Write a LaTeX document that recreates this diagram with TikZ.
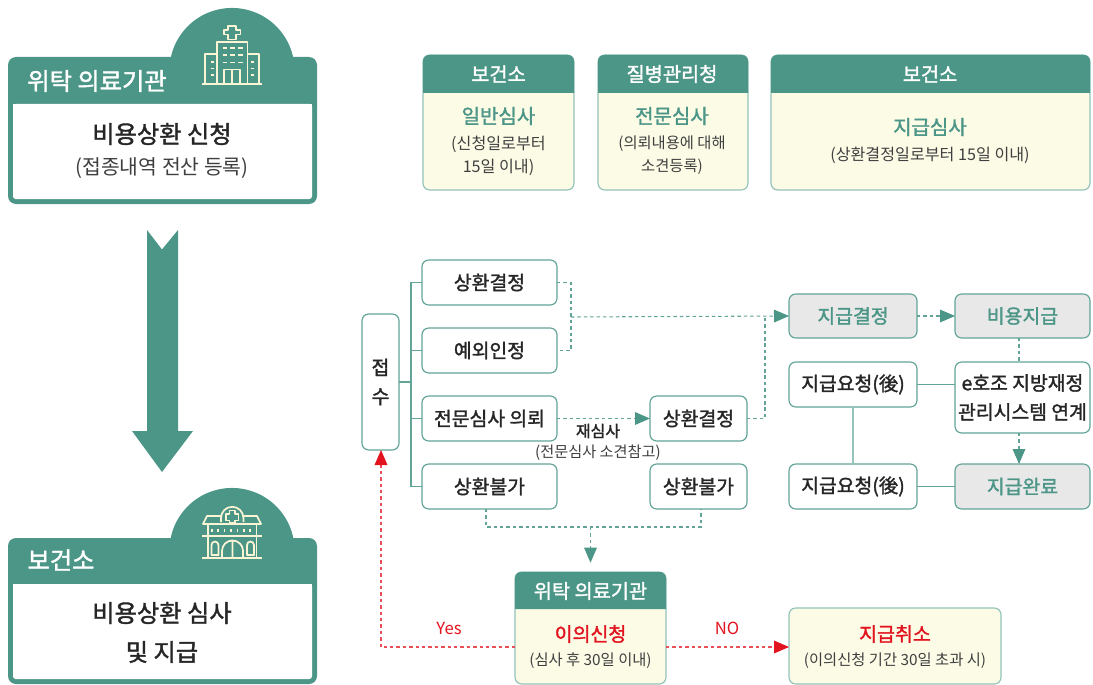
\documentclass[tikz,border=0pt]{standalone}
\usepackage{fontspec}
\setmainfont{Noto Sans CJK KR}
\newfontfamily\medf[FakeBold=1.6]{Noto Sans CJK KR}
\usetikzlibrary{arrows.meta}
\definecolor{tealc}{HTML}{4C9688}
\definecolor{edgec}{HTML}{62A498}
\definecolor{softc}{HTML}{93C3BA}
\definecolor{creamc}{HTML}{FCFBE6}
\definecolor{iconc}{HTML}{FBF5D6}
\definecolor{grayc}{HTML}{E8E8E8}
\definecolor{redc}{HTML}{E2141F}
\definecolor{inkc}{HTML}{262626}
\definecolor{subc}{HTML}{3F3F3F}
\newcommand\bx[7]{%
  \pgfmathsetmacro\bxw{(#4-#2)*0.75}\pgfmathsetmacro\bxh{(#5-#3)*0.75}%
  \node[#6,minimum width=\bxw pt,minimum height=\bxh pt] (#1) at ({(#2+#4)/2},{(#3+#5)/2}) {#7};}
\newcommand\hcard[7]{% name x1 y1 x2 y2 yh contents
  \bx{#1}{#2}{#3}{#4}{#5}{cardbody}{}
  \fill[tealc] (#2,#6) [rounded corners=4.5pt] -- (#2,#3) -- (#4,#3) [sharp corners] -- (#4,#6) -- cycle;
  #7}
\tikzset{
  x=0.75pt,y=-0.75pt,
  plain/.style={draw=edgec,line width=0.85pt,rounded corners=5pt,inner sep=0pt,outer sep=0pt,align=center,text=inkc,fill=white,font=\fontsize{14.5}{21.75}\selectfont\medf},
  cardbody/.style={draw=softc,line width=0.85pt,fill=creamc,rounded corners=5pt,inner sep=0pt,outer sep=0pt},
  greybox/.style={plain,fill=grayc,text=tealc},
  headtxt/.style={text=white,font=\fontsize{14.8}{18}\selectfont\medf,inner sep=0pt},
  bigtxt/.style={text=inkc,font=\fontsize{18.2}{22}\selectfont\medf,inner sep=0pt},
  bighead/.style={text=white,font=\fontsize{18.2}{22}\selectfont\medf,inner sep=0pt},
  bigsub/.style={text=subc,font=\fontsize{15.3}{18}\selectfont,inner sep=0pt},
  tealtxt/.style={text=tealc,font=\fontsize{15}{18}\selectfont\medf,inner sep=0pt},
  redtxt/.style={text=redc,font=\fontsize{14.6}{18}\selectfont\medf,inner sep=0pt},
  subtxt/.style={text=subc,font=\fontsize{12.1}{17.25}\selectfont,inner sep=0pt,align=center},
  subsmall/.style={text=subc,font=\fontsize{11.5}{14}\selectfont,inner sep=0pt},
  labeltxt/.style={text=redc,font=\fontsize{12.5}{15}\selectfont,inner sep=0pt},
  solidline/.style={draw=edgec,line width=0.85pt},
  softline/.style={draw=softc,line width=1.4pt},
  dashline/.style={draw=edgec,line width=0.8pt,dash pattern=on 2.6pt off 2.2pt},
  dasharrow/.style={dashline,-{Triangle[length=11.25pt,width=9.5pt,color=tealc]}},
  reddash/.style={draw=redc!75!white,line width=0.85pt,dash pattern=on 2.6pt off 2.2pt},
  redarrow/.style={reddash,-{Triangle[length=11.25pt,width=9.5pt,color=redc]}},
  iconline/.style={draw=iconc,line width=1.3pt,line join=round},
}
\begin{document}
\begin{tikzpicture}
\useasboundingbox (0,0) rectangle (1093,685);
% ---- top-left card
\fill[tealc] (232,70.5) circle[radius=46.9pt];
\fill[tealc,rounded corners=6pt] (8,57) rectangle (317,204);
\fill[white,rounded corners=2pt] (13,104) rectangle (312,199);
\fill[white] (13,104) rectangle (312,115);
\node[bighead] (t1) at (97,81) {위탁 의료기관};
\node[bigtxt] (t2) at (162,134) {비용상환 신청};
\node[bigsub] (t3) at (162,168) {(접종내역 전산 등록)};
% hospital icon
\draw[iconline] (228,39.5) -- (228,34.5) -- (224,34.5) -- (224,30) -- (228,30) -- (228,26) -- (236,26) -- (236,30) -- (240.5,30) -- (240.5,34.5) -- (236,34.5) -- (236,39.5) -- cycle;
\draw[iconline] (217,84) -- (217,42) -- (247.5,42) -- (247.5,84);
\draw[iconline] (217,54) -- (205,54) -- (205,84);
\draw[iconline] (247.5,54) -- (259,54) -- (259,84);
\draw[iconline] (202,84) -- (262,84);
\draw[iconline] (224,84) -- (224,69.5) -- (240,69.5) -- (240,84) (232,69.5) -- (232,84);
\foreach \yy in {48,55,62.5}{\foreach \xx in {222.5,230,238}{\draw[iconline,line width=1pt] (\xx,\yy) -- +(4.5,0);}}
\foreach \yy in {62,68.5,75}{\draw[iconline,line width=1pt] (210.5,\yy) -- +(3.5,0); \draw[iconline,line width=1pt] (250.5,\yy) -- +(3.5,0);}
% ---- big arrow
\fill[tealc] (147,230) -- (162,249.5) -- (178,230) -- (178,431) -- (193,431) -- (162,472) -- (132,431) -- (147,431) -- cycle;
% ---- bottom-left card
\fill[tealc] (232,550.5) circle[radius=46.9pt];
\fill[tealc,rounded corners=6pt] (8,538) rectangle (317,684);
\fill[white,rounded corners=2pt] (13,584) rectangle (312,679);
\fill[white] (13,584) rectangle (312,595);
\node[bighead] (b1) at (61,560) {보건소};
\node[bigtxt] (b2) at (162,613) {비용상환 심사};
\node[bigtxt] (b3) at (162,652) {및 지급};
% public-health-centre icon
\draw[iconline] (221,522) -- (221,518) arc[start angle=180,end angle=0,radius=8.4pt] -- (243.5,522);
\draw[iconline] (229.5,523) -- (229.5,520.5) -- (226,520.5) -- (226,514) -- (229.5,514) -- (229.5,510.5) -- (235,510.5) -- (235,514) -- (238.5,514) -- (238.5,520.5) -- (235,520.5) -- (235,523) -- cycle;
\draw[iconline] (221,516) -- (207,516) -- (203,524) -- (261,524) -- (257,516) -- (243.5,516);
\draw[iconline] (208,524) -- (208,557) (256.5,524) -- (256.5,557);
\foreach \xx in {212,218,224.5,231,237.5,244,250}{\draw[iconline,line width=1pt] (\xx,528.5) -- +(0,3.5);}
\draw[iconline] (202,536) -- (262,536);
\draw[iconline] (202,558) -- (262,558);
\draw[iconline] (222,557) -- (222,551) arc[start angle=180,end angle=0,radius=7.9pt] -- (243,557) (232.5,541) -- (232.5,557);
\draw[iconline] (211.5,555) -- (211.5,545) arc[start angle=180,end angle=0,radius=2.6pt] -- (218.5,555) -- cycle;
\draw[iconline] (247,555) -- (247,545) arc[start angle=180,end angle=0,radius=2.6pt] -- (254,555) -- cycle;
% ---- header cards
\hcard{c1}{423}{55}{574}{190}{93}{\node[headtxt] (c1h) at (498.5,74) {보건소};
  \node[tealtxt] (c1a) at (498.5,116) {일반심사};
  \node[subtxt] (c1b) at (498.5,155.5) {(신청일로부터\\15일 이내)};}
\hcard{c2}{598}{55}{748}{190}{93}{\node[headtxt] (c2h) at (672,74) {질병관리청};
  \node[tealtxt] (c2a) at (672,116) {전문심사};
  \node[subtxt,font=\fontsize{11.5}{17.25}\selectfont] (c2b) at (672,155.5) {(의뢰내용에 대해\\소견등록)};}
\hcard{c3}{771}{55}{1090}{190}{93}{\node[headtxt] (c3h) at (930,74) {보건소};
  \node[tealtxt] (c3a) at (930,127) {지급심사};
  \node[subtxt] (c3b) at (930,155) {(상환결정일로부터 15일 이내)};}
\hcard{c4}{515}{572}{666}{684}{609}{\node[headtxt] (c4h) at (590.5,591) {위탁 의료기관};
  \node[redtxt] (c4a) at (590.5,634) {이의신청};
  \node[subsmall] (c4b) at (590.5,661) {(심사 후 30일 이내)};}
\bx{c5}{789}{608}{1001}{684}{cardbody}{}
\node[redtxt] (c5a) at (895,634) {지급취소};
\node[subsmall] (c5b) at (895,661) {(이의신청 기간 30일 초과 시)};
% ---- flow nodes
\bx{rec}{362}{314}{399}{450}{plain}{접\\수}
\bx{a1}{422}{260}{557}{305}{plain}{상환결정}
\bx{a2}{422}{328}{557}{373}{plain}{예외인정}
\bx{a3}{422}{396}{557}{441}{plain}{전문심사 의뢰}
\bx{a4}{422}{464}{557}{509}{plain}{상환불가}
\bx{d1}{650}{396}{747}{441}{plain}{상환결정}
\bx{d2}{650}{464}{747}{509}{plain}{상환불가}
\bx{g1}{789}{294}{917}{338}{greybox}{지급결정}
\bx{g2}{955}{294}{1090}{338}{greybox}{비용지급}
\bx{r1}{789}{362}{917}{407}{plain}{지급요청(後)}
\bx{e1}{955}{362}{1090}{433}{plain}{e호조 지방재정\\관리시스템 연계}
\bx{r2}{789}{464}{917}{509}{plain}{지급요청(後)}
\bx{g3}{955}{464}{1090}{509}{greybox}{지급완료}
\node[text=inkc,font=\fontsize{12}{15}\selectfont\medf,inner sep=0pt] (re1) at (598,431) {재심사};
\node[text=subc,font=\fontsize{11.4}{14}\selectfont,inner sep=0pt] (re2) at (598,453) {(전문심사 소견참고)};
\node[labeltxt] (yes) at (449,628) {Yes};
\node[labeltxt] (no) at (727,628) {NO};
% ---- junctions
\coordinate (j0) at (411,382);
\coordinate (j1) at (571,317);
\coordinate (j2) at (765,317);
\coordinate (j3) at (590.5,527);
\coordinate (j4) at (381,647);
\coordinate (k1) at (486,509);
\coordinate (k2) at (701,509);
\coordinate (k3) at (1019,338);
\coordinate (k4) at (1019,362);
\coordinate (k5) at (1019,433);
\coordinate (k6) at (1019,464);
% ---- connectors
\draw[solidline] (rec.east |- j0) -- (j0);
\draw[solidline] (a1.west) -| (j0) |- (a4.west);
\draw[solidline] (j0 |- a2.west) -- (a2.west);
\draw[solidline] (j0 |- a3.west) -- (a3.west);
\draw[dashline] (a1.east) -| (j1) |- (a2.east);
\draw[dasharrow] (j1) -- (g1.west);
\draw[dashline] (d1.east) -| (j2);
\draw[dasharrow] (a3.east) -- (d1.west);
\draw[dasharrow] (g1.east) -- (g2.west);
\draw[dashline] (k3) -- (k4);
\draw[dasharrow] (k5) -- (k6);
\draw[solidline] (r1.east) -- (r1.east -| e1.west);
\draw[solidline] (r2.east) -- (g3.west);
\draw[softline] (r1.south) -- (r2.north);
\draw[dashline] (k1) |- (j3) -| (k2);
\draw[dasharrow,shorten >=7pt] (j3) -- (c4.north);
\draw[reddash] (c4.west |- j4) -- (j4);
\draw[redarrow] (j4) -- (j4 |- rec.south);
\draw[redarrow] (c4.east |- j4) -- (j4 -| c5.west);
\end{tikzpicture}
\end{document}
